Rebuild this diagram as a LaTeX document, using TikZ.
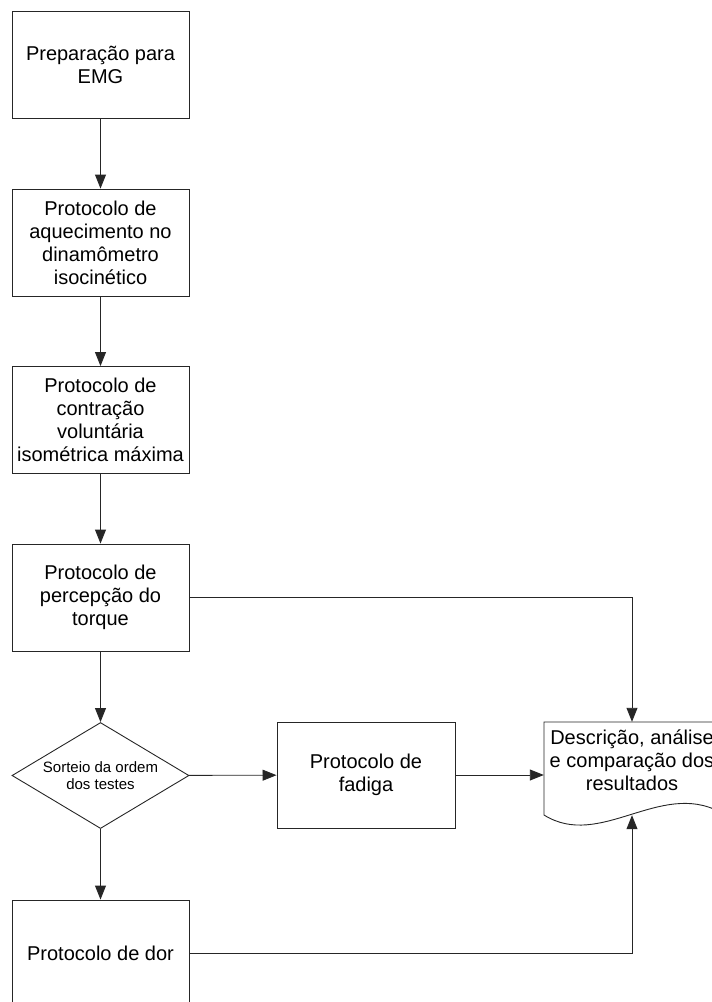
\documentclass[tikz,border=0pt]{standalone}
\usepackage{fontspec}
\setmainfont{Liberation Sans}
\usetikzlibrary{arrows.meta,shapes.geometric}
\begin{document}
\begin{tikzpicture}[x=1pt,y=-1pt,
  line/.style={draw=black!85, line width=0.9pt},
  arr/.style={line, -{Triangle[length=14pt,width=11pt]}},
  box/.style={line, rectangle, minimum width=177pt, minimum height=107pt, inner sep=0pt, align=center, font=\fontsize{20}{23}\selectfont},
  dec/.style={line, diamond, aspect=1.67, minimum width=177pt, minimum height=106pt, inner sep=0pt, align=center, font=\fontsize{15}{17.3}\selectfont}
]
\useasboundingbox (0,0) rectangle (712,1002);
\clip (0,0) rectangle (712,1002);
\node[box] (emg) at (100.5,65) {Preparação para\\EMG};
\node[box] (aq) at (100.5,242.5) {Protocolo de\\aquecimento no\\dinamômetro\\isocinético};
\node[box] (cvi) at (100.5,420) {Protocolo de\\contração\\voluntária\\isométrica máxima};
\node[box] (tor) at (100.5,597.5) {Protocolo de\\percepção do\\torque};
\node[dec] (sort) at (100.5,775.5) {Sorteio da ordem\\dos testes};
\node[box, minimum width=178pt, minimum height=106pt] (fat) at (366,775) {Protocolo de\\fadiga};
\node[box, minimum height=106pt] (dor) at (100.5,953) {Protocolo de dor};
\node[inner sep=0pt, minimum width=176pt, minimum height=93pt] (doc) at (632,768.5) {};
\draw[line] (544,815) -- (544,722) -- (720,722) -- (720,812) .. controls (660,780) and (600,850) .. (544,815) -- cycle;
\node[inner sep=0pt, align=center, font=\fontsize{20}{23}\selectfont] (doctxt) at (632,760) {Descrição, análise\\e comparação dos\\resultados};
\draw[arr] (emg) -- (aq);
\draw[arr] (aq) -- (cvi);
\draw[arr] (cvi) -- (tor);
\draw[arr] (tor) -- (sort);
\draw[arr] (sort) -- (dor);
\draw[arr] (sort) -- (fat);
\draw[arr] (fat.east) -- (fat.east -| doc.west);
\draw[arr] (tor.east) -| (doc.north);
\draw[arr] (dor.east) -| (doc.south);
\end{tikzpicture}
\end{document}
